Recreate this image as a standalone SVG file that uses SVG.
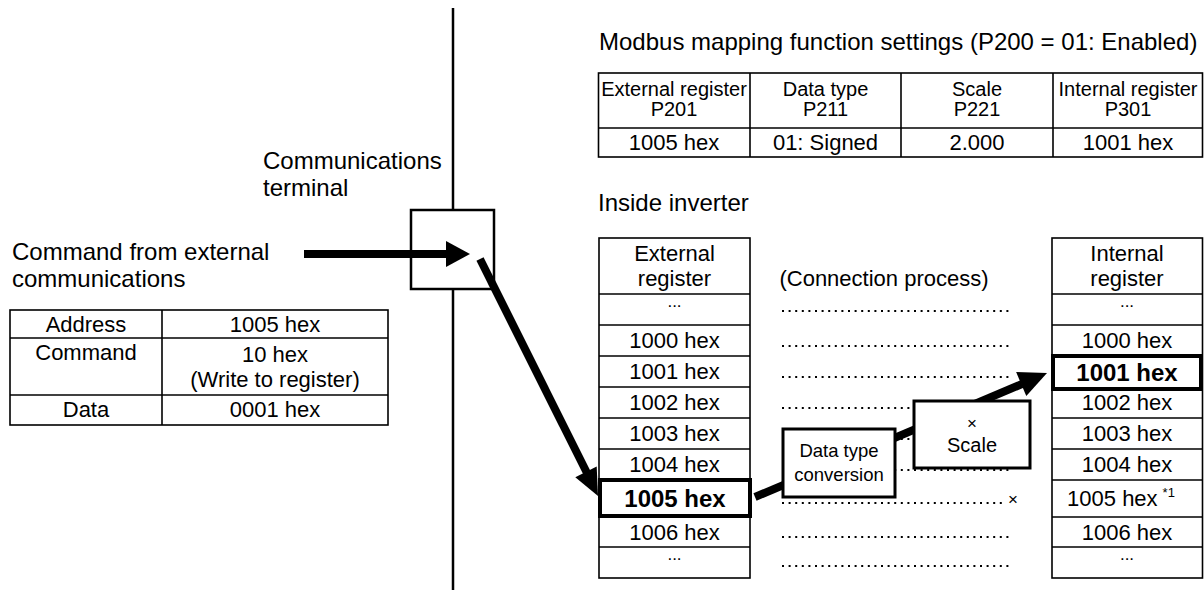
<svg xmlns="http://www.w3.org/2000/svg" width="1204" height="590" viewBox="0 0 1204 590">
<style>
text{font-family:"Liberation Sans",Arial,sans-serif;fill:#000}
.t24{font-size:24px}
.t22{font-size:22px}
.t20{font-size:20px}
.t19{font-size:18.5px}
.c{text-anchor:middle}
.b{font-weight:bold;font-size:24px}
.el{font-size:17px}
.ln{stroke:#000;stroke-width:1.6;fill:none}
.cell{stroke:#000;stroke-width:1.6;fill:#fff}
.thick{stroke:#000;stroke-width:4;fill:#fff}
.box{stroke:#000;stroke-width:3;fill:#fff}
.dots{stroke:#000;stroke-width:2;stroke-dasharray:2 4.6;fill:none}
.arr{stroke:#000;stroke-width:8;fill:none}
.main{stroke:#000;stroke-width:2.5;fill:none}
</style>
<rect width="1204" height="590" fill="#fff"/>

<g id="title">
<text class="t24" x="599" y="50">Modbus mapping function settings (P200 = 01: Enabled)</text>
</g>

<g id="mapping-table">
<rect class="cell" x="598.5" y="73" width="604" height="84"/>
<line class="ln" x1="598.5" y1="128" x2="1202.5" y2="128"/>
<line class="ln" x1="750" y1="73" x2="750" y2="157"/>
<line class="ln" x1="901" y1="73" x2="901" y2="157"/>
<line class="ln" x1="1053" y1="73" x2="1053" y2="157"/>
<text class="t20 c" x="674" y="96">External register</text>
<text class="t20 c" x="674" y="116">P201</text>
<text class="t20 c" x="825.5" y="96">Data type</text>
<text class="t20 c" x="825.5" y="116">P211</text>
<text class="t20 c" x="977" y="96">Scale</text>
<text class="t20 c" x="977" y="116">P221</text>
<text class="t20 c" x="1128" y="96">Internal register</text>
<text class="t20 c" x="1128" y="116">P301</text>
<text class="t22 c" x="674" y="150">1005 hex</text>
<text class="t22 c" x="825.5" y="150">01: Signed</text>
<text class="t22 c" x="977" y="150">2.000</text>
<text class="t22 c" x="1128" y="150">1001 hex</text>
</g>

<g id="terminal-label">
<text class="t24" x="263" y="169">Communications</text>
<text class="t24" x="263" y="196">terminal</text>
</g>

<g id="boundary">
<line class="main" x1="453" y1="8" x2="453" y2="210"/>
<line class="main" x1="453" y1="289" x2="453" y2="590"/>
</g>

<g id="terminal">
<rect class="main" x="411" y="210" width="83" height="79" fill="#fff"/>
</g>

<g id="command-label">
<text class="t24" x="12" y="260">Command from external</text>
<text class="t24" x="12" y="287">communications</text>
</g>

<g id="command-table">
<rect class="cell" x="10" y="310" width="378" height="115"/>
<line class="ln" x1="10" y1="338" x2="388" y2="338"/>
<line class="ln" x1="10" y1="395" x2="388" y2="395"/>
<line class="ln" x1="162" y1="310" x2="162" y2="425"/>
<text class="t22 c" x="86" y="332">Address</text>
<text class="t22 c" x="275" y="332">1005 hex</text>
<text class="t22 c" x="86" y="360">Command</text>
<text class="t22 c" x="275" y="362">10 hex</text>
<text class="t22 c" x="275" y="387">(Write to register)</text>
<text class="t22 c" x="86" y="417">Data</text>
<text class="t22 c" x="275" y="417">0001 hex</text>
</g>

<g id="inside-label">
<text class="t24" x="598" y="211">Inside inverter</text>
</g>

<g id="external-register">
<rect class="cell" x="599" y="238" width="151" height="340"/>
<line class="ln" x1="599" y1="294" x2="750" y2="294"/>
<line class="ln" x1="599" y1="325" x2="750" y2="325"/>
<line class="ln" x1="599" y1="356" x2="750" y2="356"/>
<line class="ln" x1="599" y1="387" x2="750" y2="387"/>
<line class="ln" x1="599" y1="418" x2="750" y2="418"/>
<line class="ln" x1="599" y1="449" x2="750" y2="449"/>
<line class="ln" x1="599" y1="517" x2="750" y2="517"/>
<line class="ln" x1="599" y1="547" x2="750" y2="547"/>
<text class="t22 c" x="674.5" y="261">External</text>
<text class="t22 c" x="674.5" y="286">register</text>
<text class="el c" x="674.5" y="307">...</text>
<text class="t22 c" x="674.5" y="348">1000 hex</text>
<text class="t22 c" x="674.5" y="379">1001 hex</text>
<text class="t22 c" x="674.5" y="410">1002 hex</text>
<text class="t22 c" x="674.5" y="441">1003 hex</text>
<text class="t22 c" x="674.5" y="472">1004 hex</text>
<rect class="thick" x="600" y="480" width="150" height="36"/>
<text class="b c" x="675" y="507">1005 hex</text>
<text class="t22 c" x="674.5" y="540">1006 hex</text>
<text class="el c" x="674.5" y="560">...</text>
</g>

<g id="connection-process">
<text class="t22 c" x="884" y="286">(Connection process)</text>
<line class="dots" x1="782" y1="311" x2="1010" y2="311"/>
<line class="dots" x1="782" y1="346" x2="1010" y2="346"/>
<line class="dots" x1="782" y1="377" x2="1010" y2="377"/>
<line class="dots" x1="782" y1="408" x2="1010" y2="408"/>
<line class="dots" x1="782" y1="439" x2="1010" y2="439"/>
<line class="dots" x1="782" y1="470" x2="1010" y2="470"/>
<line class="dots" x1="782" y1="503" x2="1005" y2="503"/>
<text class="el c" x="1013" y="505">×</text>
<line class="dots" x1="782" y1="537" x2="1010" y2="537"/>
<line class="dots" x1="782" y1="566" x2="1010" y2="566"/>
</g>

<g id="internal-register">
<rect class="cell" x="1052" y="238" width="150.5" height="340"/>
<line class="ln" x1="1052" y1="294" x2="1202.5" y2="294"/>
<line class="ln" x1="1052" y1="325" x2="1202.5" y2="325"/>
<line class="ln" x1="1052" y1="387" x2="1202.5" y2="387"/>
<line class="ln" x1="1052" y1="418" x2="1202.5" y2="418"/>
<line class="ln" x1="1052" y1="449" x2="1202.5" y2="449"/>
<line class="ln" x1="1052" y1="480" x2="1202.5" y2="480"/>
<line class="ln" x1="1052" y1="517" x2="1202.5" y2="517"/>
<line class="ln" x1="1052" y1="547" x2="1202.5" y2="547"/>
<text class="t22 c" x="1127" y="261">Internal</text>
<text class="t22 c" x="1127" y="286">register</text>
<text class="el c" x="1127" y="307">...</text>
<text class="t22 c" x="1127" y="348">1000 hex</text>
<rect class="thick" x="1053" y="356" width="148" height="33"/>
<text class="b c" x="1127" y="381">1001 hex</text>
<text class="t22 c" x="1127" y="410">1002 hex</text>
<text class="t22 c" x="1127" y="441">1003 hex</text>
<text class="t22 c" x="1127" y="472">1004 hex</text>
<text class="t22 c" x="1121" y="506">1005 hex<tspan dx="5" dy="-9" font-size="13">*1</tspan></text>
<text class="t22 c" x="1127" y="540">1006 hex</text>
<text class="el c" x="1127" y="560">...</text>
</g>

<g id="connectors">
<line class="arr" x1="304" y1="254" x2="448" y2="254"/>
<polygon points="446,241 470,254 446,267" fill="#000"/>
<line class="arr" x1="480" y1="259" x2="587" y2="473"/>
<polygon points="575.3,477.2 598,496 596.7,466.4" fill="#000"/>
<line class="arr" x1="755" y1="497" x2="1022" y2="384"/>
<polygon points="1016.1,371.9 1047,373 1026.3,395.9" fill="#000"/>
</g>

<g id="data-type-conversion">
<rect class="box" x="783" y="429" width="112" height="68"/>
<text class="t19 c" x="839" y="457">Data type</text>
<text class="t19 c" x="839" y="481">conversion</text>
</g>

<g id="scale">
<rect class="box" x="914" y="401" width="116" height="67"/>
<text class="el c" x="972" y="429">×</text>
<text class="t20 c" x="972" y="452">Scale</text>
</g>
</svg>
